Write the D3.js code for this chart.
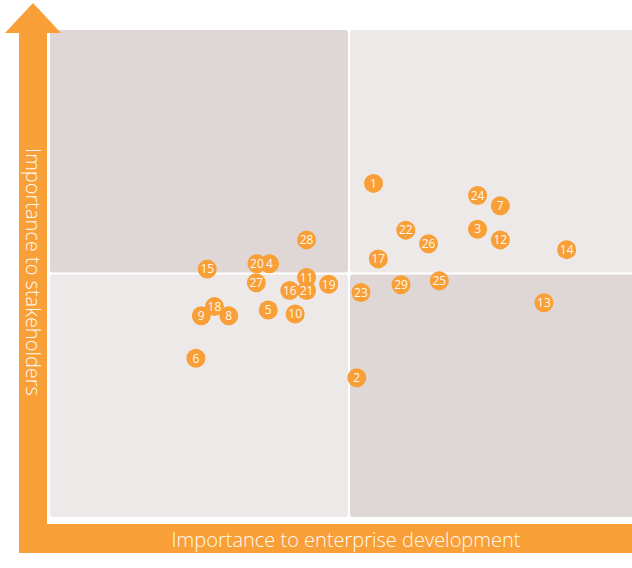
<!DOCTYPE html>
<html><head><meta charset="utf-8">
<script src="https://cdn.jsdelivr.net/npm/d3@7"></script>
<style>html,body{margin:0;padding:0;background:#fff;}svg{display:block;}</style>
</head><body>
<script>
const ids = [1,2,3,4,5,6,7,8,9,10,11,12,13,14,15,16,17,18,19,20,21,22,23,24,25,26,27,28,29];
const xVals = [54.1,51.3,71.5,36.7,36.5,24.4,75.3,29.9,25.3,41.0,42.9,75.3,82.6,86.4,26.3,40.1,54.9,27.5,46.6,34.6,42.9,59.5,52.0,71.5,65.1,63.3,34.5,42.9,58.7];
const yVals = [68.5,28.6,59.1,52.0,42.5,32.6,63.9,41.3,41.3,41.7,49.2,56.9,44.0,54.9,50.9,46.5,53.0,43.2,47.8,52.0,46.5,58.9,46.1,66.0,48.5,56.1,48.1,56.9,47.7];
const xTitle = "Importance to enterprise development";
const yTitle = "Importance to stakeholders";

const W = 632, H = 568;
const orange = "#f89f37";
const dark = "#ded7d5", light = "#ede9e8";
const svg = d3.select("body").append("svg").attr("width", W).attr("height", H);

const x = d3.scaleLinear().domain([0,100]).range([50, 648]);
const y = d3.scaleLinear().domain([0,100]).range([517, 30]);

// quadrants
const gap = 1;
const quads = [
  {x0:0,x1:50,y0:50,y1:100,c:dark},
  {x0:50,x1:100,y0:50,y1:100,c:light},
  {x0:0,x1:50,y0:0,y1:50,c:light},
  {x0:50,x1:100,y0:0,y1:50,c:dark}
];
svg.selectAll("rect.q").data(quads).join("rect").attr("class","q")
  .attr("x", d => x(d.x0) + (d.x0 > 0 ? gap : 0))
  .attr("y", d => y(d.y1) + (d.y1 < 100 ? gap : 0))
  .attr("width", d => x(d.x1) - x(d.x0) - (d.x0 > 0 ? gap : 0) - (d.x1 < 100 ? gap : 0))
  .attr("height", d => y(d.y0) - y(d.y1) - (d.y1 < 100 ? gap : 0) - (d.y0 > 0 ? gap : 0))
  .attr("rx", 3).attr("fill", d => d.c);

// axes bars
svg.append("rect").attr("x", 19).attr("y", 30).attr("width", 28).attr("height", 523).attr("fill", orange);
svg.append("rect").attr("x", 19).attr("y", 524).attr("width", W - 19).attr("height", 29).attr("fill", orange);
svg.append("path").attr("d", "M33,3 L61,33 L5,33 Z").attr("fill", orange);

svg.append("text").attr("x", 346).attr("y", 547).attr("text-anchor", "middle")
  .attr("font-family", "'Open Sans', sans-serif").attr("font-weight", 300).attr("font-size", 20)
  .attr("fill", "#fffaf2").text(xTitle);
svg.append("text").attr("transform", "translate(26,272) rotate(90)").attr("text-anchor", "middle")
  .attr("font-family", "'Open Sans', sans-serif").attr("font-weight", 300).attr("font-size", 20)
  .attr("fill", "#fffaf2").text(yTitle);

const pts = ids.map((id, i) => ({id, x: xVals[i], y: yVals[i]}));
svg.selectAll("circle.p").data(pts).join("circle").attr("class","p")
  .attr("cx", d => x(d.x)).attr("cy", d => y(d.y)).attr("r", 9.5).attr("fill", orange);
svg.selectAll("text.l").data(pts).join("text").attr("class","l")
  .attr("x", d => x(d.x)).attr("y", d => y(d.y) + 4.3).attr("text-anchor", "middle")
  .attr("font-family", "'Open Sans', sans-serif").attr("font-weight", 400).attr("font-size", 12)
  .attr("fill", "#fff8ee").text(d => d.id);
</script>
</body></html>
